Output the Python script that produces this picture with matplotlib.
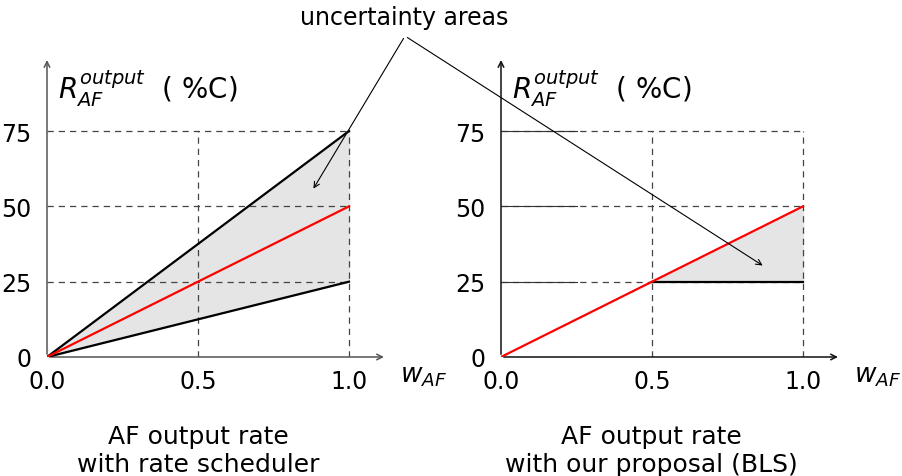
import matplotlib.pyplot as plt
from matplotlib.patches import FancyArrowPatch

# data
w = [0.0, 1.0]
upper_rs = [0, 75]
lower_rs = [0, 25]
mid = [0, 50]
w_bls = [0.5, 1.0]
mid_bls = [25, 50]
floor_bls = [25, 25]
yticks = [0, 25, 50, 75]
xticks = [0.0, 0.5, 1.0]
xticklabels = ['0.0', '0.5', '1.0']
captions = ['AF output rate\nwith rate scheduler', 'AF output rate\nwith our proposal (BLS)']

plt.rcParams['font.family'] = ['DejaVu Sans']
plt.rcParams['mathtext.fontset'] = 'dejavusans'

fig = plt.figure(figsize=(9.02, 4.77), dpi=100)
W, H = 902, 477

def make_ax(x0px, axcol):
    ax = fig.add_axes([x0px / W, 119 / H, 392.6 / W, 301.3 / H])
    ax.set_xlim(0, 1.3)
    ax.set_ylim(0, 100)
    for s in ax.spines.values():
        s.set_visible(False)
    ax.set_xticks(xticks)
    ax.set_xticklabels(xticklabels, fontsize=17)
    ax.set_yticks(yticks)
    ax.set_yticklabels([str(t) for t in yticks], fontsize=17)
    ax.tick_params(length=0, pad=9)
    ax.tick_params(axis='y', pad=11)
    # grid
    for yv in yticks[1:]:
        ax.plot([0, 1], [yv, yv], ls=(0, (5, 4)), color='#444444', lw=0.9)
    for xv in xticks[1:]:
        ax.plot([xv, xv], [0, 75], ls=(0, (5, 4)), color='#444444', lw=0.9)
    # axes arrows
    ax.annotate('', xy=(1.125, 0), xytext=(0, 0),
                arrowprops=dict(arrowstyle='->', color=axcol, lw=1.1))
    ax.annotate('', xy=(0, 99.5), xytext=(0, 0),
                arrowprops=dict(arrowstyle='->', color=axcol, lw=1.1))
    ax.text(0.035, 89.5, r'$R_{AF}^{output}$  ( %C)', fontsize=20, va='center', ha='left')
    ax.text(1.17, -6, r'$w_{AF}$', fontsize=19, ha='left', va='center')
    return ax

ax1 = make_ax(47, '#555555')
ax1.fill_between(w, lower_rs, upper_rs, color='#e5e5e5', zorder=1)
ax1.plot(w, upper_rs, color='black', lw=1.6, zorder=3)
ax1.plot(w, lower_rs, color='black', lw=1.6, zorder=3)
ax1.plot(w, mid, color='red', lw=1.6, zorder=4)

ax2 = make_ax(501, '#111111')
for yv in yticks:
    ax2.plot([0, 0.25], [yv, yv], color='#333333', lw=0.8, zorder=2)
ax2.fill_between(w_bls, floor_bls, mid_bls, color='#e5e5e5', zorder=1)
ax2.plot(w_bls, floor_bls, color='black', lw=1.6, zorder=3)
ax2.plot(w, mid, color='red', lw=1.6, zorder=4)

fig.text(198 / W, 1 - 451 / H, captions[0], fontsize=18, ha='center', va='center', linespacing=1.25)
fig.text(651 / W, 1 - 451 / H, captions[1], fontsize=18, ha='center', va='center', linespacing=1.25)

fig.text(404 / W, 1 - 18 / H, 'uncertainty areas', fontsize=17, ha='center', va='center')
for tx, ty in [(312, 192), (765, 268)]:
    arr = FancyArrowPatch((405 / W, 1 - 37 / H), (tx / W, 1 - ty / H),
                          transform=fig.transFigure, arrowstyle='->', color='black',
                          lw=0.8, mutation_scale=10)
    fig.patches.append(arr)

fig.savefig('out.png', dpi=100)
